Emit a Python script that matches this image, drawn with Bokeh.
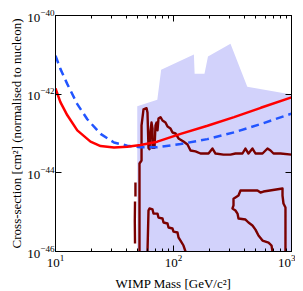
from bokeh.plotting import figure
from bokeh.models import LogAxis, FixedTicker, Range1d
from bokeh.embed import file_html
from bokeh.resources import INLINE

# ---------------- data (WIMP mass [GeV/c^2], cross-section [cm^2]) ----------------
red_mass = [10, 11.0, 12.6, 15.3, 19.8, 24.1, 31.3, 40.6, 52.6, 72.9, 115, 194, 326, 549, 1000]
red_xs = [1.41e-42, 6.3e-43, 2.9e-43, 1.2e-43, 6.2e-44, 4.8e-44, 4.4e-44, 4.6e-44,
          5.1e-44, 6.2e-44, 9.8e-44, 1.58e-43, 2.6e-43, 4.5e-43, 8.3e-43]

blue_mass = [10, 11.0, 12.6, 15.3, 18.6, 24.1, 31.3, 40.6, 52.6, 72.9, 115, 194, 326, 549, 1000]
blue_xs = [9.5e-42, 4.4e-42, 1.8e-42, 5.6e-43, 2.3e-43, 9.8e-44, 5.9e-44, 4.9e-44,
           4.5e-44, 4.5e-44, 5.4e-44, 7.2e-44, 1.07e-43, 1.74e-43, 3.2e-43]

region_mass = [49.3, 49.3, 72.9, 78.6, 148.9, 151, 183, 196, 304, 422, 1000, 1000]
region_xs = [1e-46, 4.9e-43, 7.2e-43, 4.2e-42, 1.02e-41, 3.3e-42, 3.3e-42, 9.1e-42,
             1.9e-41, 1.55e-42, 9.8e-43, 1e-46]

c1_mass = [51.5, 51.5, 53.6, 53.6, 55.7, 59.1, 60.2, 61.4, 62.6, 63.9, 65.1, 66.4, 66.4,
           69.0, 70.4, 71.8, 73.2, 74.6, 77.6, 80.7, 85.5, 89.0, 94.3, 98.1, 104, 110.3,
           121.5, 131.4, 139.4, 153.6, 169.3, 198, 214, 227, 265, 304, 335, 384, 407,
           432, 467, 495, 568, 626, 664, 704, 807, 1000]
c1_xs = [1e-46, 1.73e-44, 2.06e-44, 1.6e-43, 4.1e-43, 4.4e-43, 3.4e-43, 4.3e-44, 4.0e-44,
         1.2e-43, 1.9e-43, 1.34e-43, 4.3e-44, 4.3e-44, 1.6e-43, 1.9e-43, 1.2e-43, 2.4e-43,
         2.6e-43, 2.14e-43, 1.9e-43, 1.5e-43, 1.34e-43, 1.06e-43, 1.0e-43, 7.5e-44,
         6.25e-44, 5.25e-44, 3.7e-44, 3.5e-44, 3.1e-44, 3.1e-44, 4.15e-44, 3.1e-44,
         2.9e-44, 2.9e-44, 3.1e-44, 3.1e-44, 4.15e-44, 3.1e-44, 4.15e-44, 3.1e-44,
         3.1e-44, 4.15e-44, 3.7e-44, 3.1e-44, 3.1e-44, 2.9e-44]

c2a_mass = [47.6, 47.6]
c2a_xs = [5.7e-45, 2.5e-45]
c2b_mass = [47.2, 47.0, 47.2]
c2b_xs = [1.87e-45, 6.0e-46, 1.6e-46]

c3_mass = [60.2, 61.4, 62.6, 66.4, 67.7, 73.2, 74.6, 80.7, 82.3, 89.0, 90.7, 98.1, 100,
           108.1, 110.3, 114.7, 121.5, 126.4]
c3_xs = [1e-46, 1.1e-45, 1.24e-45, 1.17e-45, 9.2e-46, 9.2e-46, 7.3e-46, 6.9e-46, 5.46e-46,
         5.15e-46, 4.07e-46, 3.84e-46, 3.2e-46, 3.04e-46, 2.27e-46, 1.9e-46, 1.42e-46, 1e-46]

c4_mass = [690, 677, 639, 568, 525, 495, 467, 432, 407.5, 355.5, 348.7, 335, 316, 322.5,
           322.5, 355.5, 369.6, 515, 546, 579, 839, 839, 855, 889, 889]
c4_xs = [1e-46, 1.42e-46, 1.69e-46, 1.9e-46, 2.55e-46, 3.6e-46, 4.6e-46, 5.46e-46, 6.5e-46,
         6.9e-46, 9.2e-46, 1.1e-45, 1.24e-45, 1.48e-45, 2.2e-45, 2.65e-45, 3.55e-45,
         3.55e-45, 3.16e-45, 3.35e-45, 4.0e-45, 2.65e-45, 1.66e-45, 1.31e-45, 1e-46]

x_major = [10, 100, 1000]
x_minor = [20, 30, 40, 50, 60, 70, 80, 90, 200, 300, 400, 500, 600, 700, 800, 900]
y_major = [1e-46, 1e-44, 1e-42, 1e-40]

FONT = "Liberation Serif"
MAROON = "#7a0000"

p = figure(x_axis_type="log", y_axis_type="log",
           x_range=Range1d(10, 1000), y_range=Range1d(1e-46, 1e-40),
           frame_width=236, frame_height=236,
           output_backend="svg", toolbar_location=None)
p.min_border_left = 55
p.min_border_top = 15
p.min_border_right = 4
p.min_border_bottom = 40
p.grid.visible = False
p.outline_line_color = "black"
p.outline_line_width = 1
p.background_fill_color = "white"

# shaded region
p.patch(region_mass, region_xs, fill_color="#d2d2fb", line_color=None)

# contours
for mx, ys in [(c1_mass, c1_xs), (c2a_mass, c2a_xs), (c2b_mass, c2b_xs),
               (c3_mass, c3_xs), (c4_mass, c4_xs)]:
    p.line(mx, ys, line_color=MAROON, line_width=2.4, line_join="round")

p.line(blue_mass, blue_xs, line_color="#2255ff", line_width=2.5, line_dash="8 5")
p.line(red_mass, red_xs, line_color="#ff0000", line_width=2.5)

xt = FixedTicker(ticks=x_major, minor_ticks=x_minor)
yt = FixedTicker(ticks=y_major, minor_ticks=[])

def style(ax):
    ax.major_tick_in = 6
    ax.major_tick_out = 0
    ax.minor_tick_in = 3
    ax.minor_tick_out = 0
    ax.axis_line_color = "black"
    ax.major_label_text_font = FONT
    ax.major_label_text_font_size = "13px"
    ax.major_label_text_color = "black"
    ax.axis_label_text_font = FONT
    ax.axis_label_text_font_size = "13px"
    ax.axis_label_text_font_style = "normal"
    ax.axis_label_text_color = "black"

xa = p.xaxis[0]
xa.ticker = xt
style(xa)
xa.axis_label = "WIMP Mass [GeV/c²]"
xa.major_label_standoff = 3
xa.axis_label_standoff = 6

ya = p.yaxis[0]
ya.ticker = yt
style(ya)
ya.axis_label = "Cross-section [cm²] (normalised to nucleon)"
ya.major_label_standoff = 1
ya.axis_label_standoff = 0
ya.minor_tick_in = 0

top = LogAxis(ticker=FixedTicker(ticks=x_major, minor_ticks=x_minor))
style(top)
top.major_label_text_alpha = 0
top.major_label_text_font_size = "1px"
top.major_label_standoff = 0
p.add_layout(top, "above")

right = LogAxis(ticker=FixedTicker(ticks=y_major, minor_ticks=[]))
style(right)
right.major_label_text_alpha = 0
right.major_label_text_font_size = "1px"
right.major_label_standoff = 0
right.minor_tick_in = 0
p.add_layout(right, "right")

open("out.html", "w").write(file_html(p, INLINE))
